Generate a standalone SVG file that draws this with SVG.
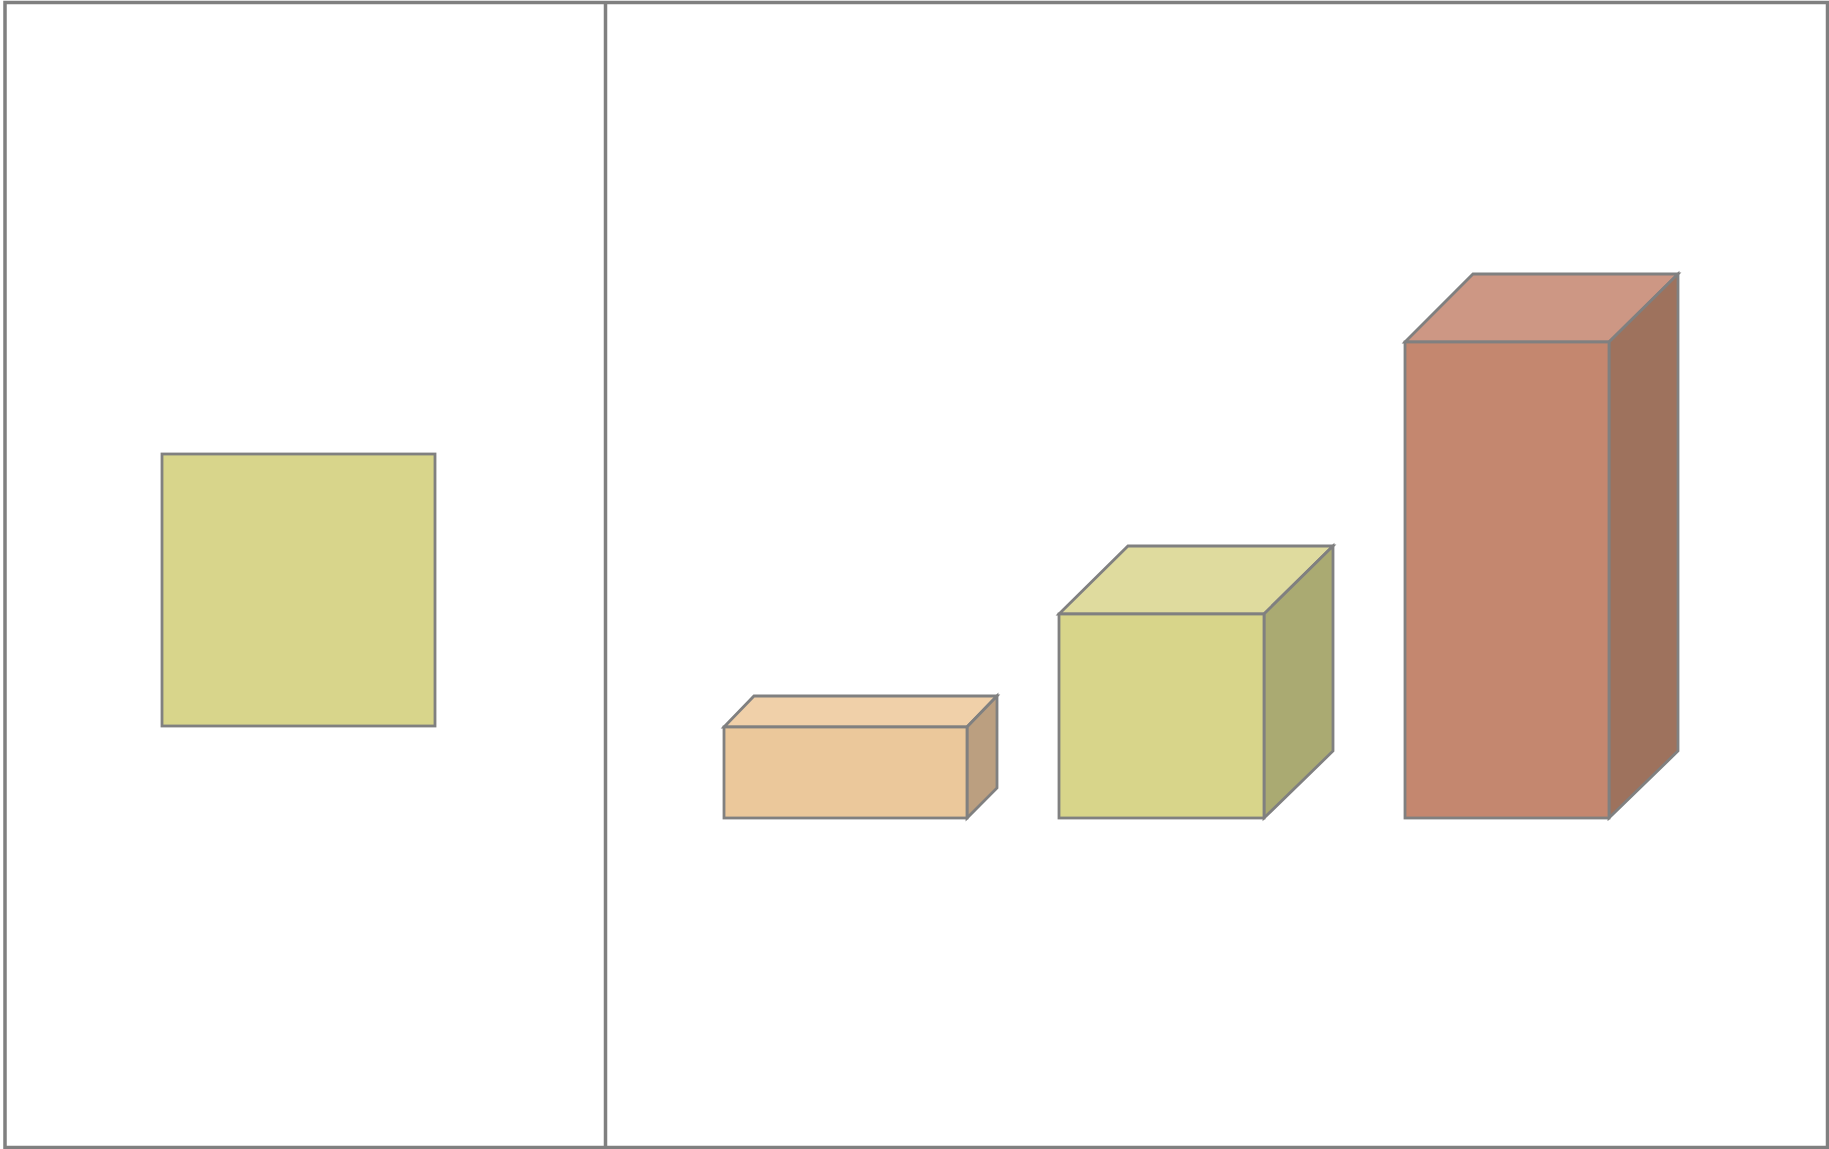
<svg xmlns="http://www.w3.org/2000/svg" width="1829" height="1149" viewBox="0 0 1829 1149">
<style>
.s{stroke:#808080;stroke-width:2.8;stroke-linejoin:miter}
.f{fill:none;stroke:#808080;stroke-width:3.5}
</style>
<rect width="1829" height="1149" fill="#ffffff"/>
<g id="frame">
<rect class="f" x="5" y="2.5" width="1822.5" height="1145"/>
<line class="f" x1="605.5" y1="2.5" x2="605.5" y2="1147.5"/>
</g>
<g id="square">
<rect class="s" x="162" y="454" width="273" height="272" fill="#D8D58B"/>
</g>
<g id="box-orange">
<polygon class="s" points="724,727 754,696 997,696 967,727" fill="#F0D0A9"/>
<polygon class="s" points="967,727 997,696 997,788 967,818" fill="#BB9F80"/>
<rect class="s" x="724" y="727" width="243" height="91" fill="#EBC89B"/>
</g>
<g id="box-green">
<polygon class="s" points="1059,614 1128,546 1333,546 1264,614" fill="#DFDB9E"/>
<polygon class="s" points="1264,614 1333,546 1333,751 1264,818" fill="#AAAA72"/>
<rect class="s" x="1059" y="614" width="205" height="204" fill="#D8D58A"/>
</g>
<g id="box-red">
<polygon class="s" points="1405,342 1473,274 1678,274 1609,342" fill="#CD9784"/>
<polygon class="s" points="1609,342 1678,274 1678,751 1609,818" fill="#9E725D"/>
<rect class="s" x="1405" y="342" width="204" height="476" fill="#C4876F"/>
</g>
<g id="connectors"></g>
</svg>
